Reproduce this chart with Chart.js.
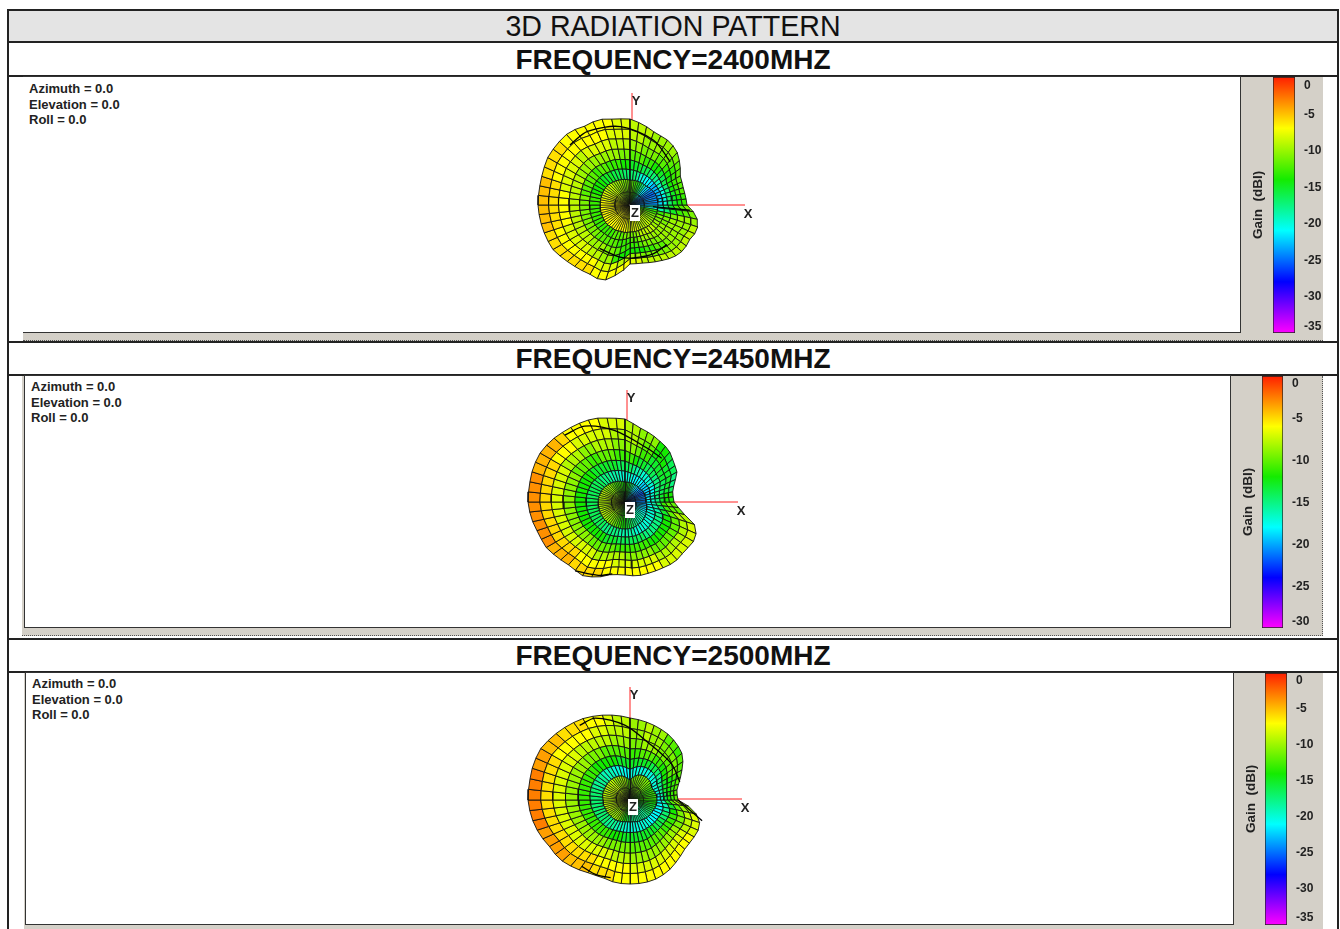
<!DOCTYPE html>
<html>
<head>
<meta charset="utf-8">
<title>3D Radiation Pattern</title>
<script src="https://cdn.jsdelivr.net/npm/chart.js@4"></script>
<style>
html, body { margin: 0; padding: 0; background: #fff; width: 1340px; height: 929px; overflow: hidden; font-family: "Liberation Sans", Arial, sans-serif; }
.abs { position: absolute; box-sizing: border-box; }
.hline { position: absolute; left: 8px; width: 1330px; height: 2px; background: #222; }
.vline { position: absolute; top: 9px; width: 2px; height: 920px; background: #222; }
.title { position: absolute; left: 8px; width: 1330px; text-align: center; color: #111; }
.freq { font-weight: bold; font-size: 28px; line-height: 32px; }
.gray { position: absolute; box-sizing: border-box; background: #d4d0c8; }
.box { position: absolute; box-sizing: border-box; background: #fff; border: 1px solid #333; }
.info { position: absolute; font-size: 13px; font-weight: bold; line-height: 15.5px; color: #222; white-space: pre; }
canvas { position: absolute; }
</style>
</head>
<body>
<div class="abs" style="left:8px;top:10px;width:1330px;height:32px;background:#e4e4e4"></div>
<div class="hline" style="top:9px"></div>
<div class="hline" style="top:41px"></div>
<div class="hline" style="top:75px"></div>
<div class="hline" style="top:341px"></div>
<div class="hline" style="top:374px"></div>
<div class="hline" style="top:638px"></div>
<div class="hline" style="top:671px"></div>
<div class="vline" style="left:7px"></div>
<div class="vline" style="left:1337px"></div>

<div class="title" style="top:10px;font-size:28.6px;line-height:32px">3D RADIATION PATTERN</div>
<div class="title freq" style="top:44px">FREQUENCY=2400MHZ</div>
<div class="title freq" style="top:343px">FREQUENCY=2450MHZ</div>
<div class="title freq" style="top:640px">FREQUENCY=2500MHZ</div>

<div class="gray" style="left:23px;top:77px;width:1300px;height:264px;border-bottom:1px dotted #555"></div>
<div class="box" style="left:23px;top:76px;width:1218px;height:257px;border-left:0"></div>
<div class="gray" style="left:22px;top:376px;width:1301px;height:260px;border-right:1px dotted #555;border-bottom:1px dotted #555"></div>
<div class="box" style="left:24px;top:375px;width:1207px;height:253px"></div>
<div class="gray" style="left:24px;top:673px;width:1299px;height:256px"></div>
<div class="box" style="left:25px;top:672px;width:1209px;height:253px"></div>

<div class="info" style="left:29px;top:81px">Azimuth = 0.0
Elevation = 0.0
Roll = 0.0</div>
<div class="info" style="left:31px;top:379px">Azimuth = 0.0
Elevation = 0.0
Roll = 0.0</div>
<div class="info" style="left:32px;top:676px">Azimuth = 0.0
Elevation = 0.0
Roll = 0.0</div>

<canvas id="pattern1" width="1216" height="255" style="left:24px;top:77px"></canvas>
<canvas id="pattern2" width="1205" height="251" style="left:25px;top:376px"></canvas>
<canvas id="pattern3" width="1207" height="251" style="left:26px;top:673px"></canvas>
<canvas id="bar1" width="82" height="258" style="left:1241px;top:76px"></canvas>
<canvas id="bar2" width="91" height="254" style="left:1231px;top:375px"></canvas>
<canvas id="bar3" width="89" height="254" style="left:1234px;top:672px"></canvas>

<script>
// outer edge and gain were read every 10 degrees round each pattern, counter clockwise from +X
const sectorAngles = [0,10,20,30,40,50,60,70,80,90,100,110,120,130,140,150,160,170,180,190,200,210,220,230,240,250,260,270,280,290,300,310,320,330,340,350];

// outer edge of the surface, px from the middle, one per sector
const outer2400 = [57,56,56,58,65,72,75,76,81,86,87,91,91,95,95,95,93,92,92,91,90,89,85,82,80,81,70,59,59,61,64,68,70,69,72,68];
const outer2450 = [49,48,52,60,63,68,70,73,76,83,85,89,91,93,96,98,98,97,97,95,92,91,87,84,85,80,73,73,75,75,76,78,77,79,77,57];
const outer2500 = [48,47,52,60,69,73,76,78,80,82,86,90,94,97,100,103,103,102,102,100,97,93,92,88,84,82,84,84,84,83,80,76,73,74,75,66];

// dark ring round the dense middle part
const inner2400 = [28,28,28,27,26,25,25,25,25,25,26,27,28,29,30,30,30,30,30,30,30,30,30,29,29,28,28,27,27,27,27,28,28,28,28,28];
const inner2450 = [21,21,21,21,20,20,20,20,20,20,21,22,23,24,25,26,26,27,27,27,27,27,27,27,27,27,27,27,27,27,26,26,25,24,23,22];
const inner2500 = [27,27,26,25,27,28,28,27,24,20,23,26,27,28,28,28,28,28,27,27,26,26,25,25,24,23,22,22,22,23,23,24,25,25,26,27];

// gain in dBi per sector: middle part, then the six rings going outwards
const gain2400 = [
  [-24,-22,-20,-17,-15,-14,-13],[-24,-23,-20,-17,-15,-13,-12],[-25,-23,-20,-17,-14,-13,-12],[-24,-23,-19,-16,-14,-13,-12],
  [-22,-22,-18,-15,-13,-12,-11],[-18,-21,-17,-14,-12,-11,-10],[-15,-20,-16,-13,-11,-10,-10],[-13,-18,-15,-12,-11,-10,-9],
  [-12,-17,-15,-12,-10,-9,-9],[-11,-17,-14,-11,-9,-8,-8],[-11,-16,-13,-10,-9,-8,-7],[-10,-16,-13,-10,-8,-7,-7],
  [-10,-15,-12,-10,-8,-7,-7],[-9,-15,-13,-10,-9,-7,-7],[-9,-14,-12,-10,-8,-7,-6],[-8,-14,-12,-9,-8,-7,-6],
  [-8,-13,-12,-9,-8,-6,-5],[-7,-13,-11,-9,-7,-6,-5],[-7,-13,-11,-9,-7,-6,-5],[-7,-13,-11,-9,-7,-6,-5],
  [-7,-13,-11,-9,-8,-7,-6],[-7,-13,-11,-9,-8,-7,-6],[-7,-13,-12,-10,-8,-7,-6],[-7,-13,-12,-10,-9,-7,-6],
  [-7,-12,-12,-11,-10,-8,-7],[-7,-12,-13,-12,-13,-8,-7],[-8,-11,-13,-13,-14,-9,-7],[-8,-11,-12,-13,-14,-10,-8],
  [-8,-10,-11,-12,-14,-11,-9],[-9,-9,-10,-11,-13,-11,-9],[-9,-9,-10,-11,-12,-11,-9],[-9,-9,-10,-10,-11,-10,-9],
  [-10,-10,-10,-10,-10,-10,-9],[-11,-11,-11,-10,-10,-10,-9],[-13,-13,-12,-11,-10,-10,-10],[-20,-19,-17,-15,-13,-12,-11]
];
const gain2450 = [
  [-21,-18,-17,-15,-13,-12,-12],[-21,-19,-17,-15,-14,-13,-14],[-22,-19,-18,-15,-14,-13,-15],[-21,-19,-17,-15,-13,-13,-14],
  [-20,-19,-17,-14,-13,-12,-13],[-18,-18,-17,-14,-13,-12,-12],[-15,-18,-16,-13,-11,-10,-9],[-13,-17,-15,-12,-10,-9,-9],
  [-12,-17,-14,-11,-9,-8,-8],[-12,-17,-14,-11,-9,-8,-7],[-11,-16,-13,-10,-8,-7,-7],[-11,-16,-13,-10,-8,-7,-6],
  [-10,-15,-13,-11,-9,-7,-6],[-9,-15,-13,-10,-8,-6,-5],[-9,-14,-12,-10,-8,-6,-4],[-8,-14,-12,-9,-7,-5,-4],
  [-8,-14,-12,-9,-7,-5,-3],[-8,-14,-12,-9,-7,-5,-3],[-8,-14,-12,-9,-7,-5,-3],[-8,-14,-12,-9,-7,-5,-3],
  [-8,-14,-12,-9,-7,-5,-3],[-8,-14,-12,-9,-7,-5,-4],[-9,-14,-12,-9,-7,-5,-4],[-9,-15,-12,-10,-7,-6,-5],
  [-10,-15,-13,-10,-8,-6,-5],[-11,-15,-13,-10,-8,-6,-6],[-12,-16,-14,-11,-8,-7,-6],[-13,-16,-14,-11,-9,-7,-6],
  [-14,-16,-14,-11,-9,-7,-6],[-15,-17,-14,-11,-9,-7,-6],[-16,-17,-15,-12,-10,-8,-7],[-16,-17,-15,-12,-10,-8,-7],
  [-17,-17,-15,-12,-10,-8,-7],[-18,-17,-15,-12,-10,-8,-7],[-19,-17,-16,-13,-10,-8,-8],[-20,-18,-16,-14,-11,-10,-10]
];
const gain2500 = [
  [-13,-21,-19,-16,-14,-13,-12],[-13,-20,-18,-15,-14,-13,-12],[-13,-20,-18,-15,-14,-13,-12],[-12,-20,-18,-14,-12,-11,-12],
  [-11,-20,-17,-14,-12,-11,-13],[-11,-20,-16,-13,-11,-11,-12],[-11,-20,-15,-12,-10,-10,-10],[-11,-20,-15,-12,-10,-9,-9],
  [-11,-20,-15,-13,-11,-10,-10],[-12,-21,-15,-12,-10,-9,-9],[-10,-20,-15,-12,-10,-9,-8],[-10,-20,-14,-12,-9,-8,-7],
  [-10,-19,-14,-11,-9,-7,-6],[-9,-19,-14,-11,-9,-7,-6],[-9,-18,-13,-10,-8,-7,-5],[-9,-18,-13,-10,-8,-6,-4],
  [-9,-17,-13,-10,-8,-6,-3],[-9,-17,-13,-10,-8,-6,-3],[-9,-17,-13,-10,-8,-6,-3],[-9,-17,-13,-10,-8,-6,-3],
  [-9,-17,-13,-10,-8,-6,-4],[-10,-17,-13,-10,-8,-6,-4],[-10,-18,-13,-10,-8,-6,-5],[-10,-18,-13,-10,-8,-6,-5],
  [-12,-19,-14,-11,-8,-7,-6],[-14,-19,-14,-11,-9,-7,-6],[-16,-20,-15,-11,-9,-7,-7],[-18,-20,-15,-12,-10,-8,-7],
  [-18,-20,-15,-12,-10,-8,-7],[-18,-20,-15,-12,-10,-8,-7],[-18,-20,-15,-12,-10,-8,-7],[-18,-21,-16,-12,-10,-8,-7],
  [-17,-21,-16,-13,-10,-8,-7],[-16,-21,-17,-13,-11,-9,-8],[-15,-21,-18,-14,-11,-9,-8],[-14,-21,-19,-15,-12,-10,-10]
];

// folds where the surface overlaps itself, as [angle, radius] runs
const folds2400 = [
  [[135,85],[120,85],[97,79],[70,69],[47,59]],
  [[235,53],[259,53],[274,53],[296,54],[313,54]],
  [[356,23],[355,60]]
];
const folds2450 = [
  [[132,90],[118,86],[98,72],[66,58],[50,57]],
  [[234,85],[250,78],[260,73]]
];
const folds2500 = [
  [[124,90],[113,89],[94,75],[72,60],[41,55],[20,53]],
  [[234,82],[246,82],[256,80]],
  [[0,48],[344,75]]
];

const discFractions = [0.04, 0.5, 1];
const ringFractions = [0, 0.17, 0.33, 0.5, 0.67, 0.83, 1];
const spokeStep = 6;
const discSpokeStep = 5;

// colour bars
const ticks2400 = [-1.2,-5.1,-10.1,-15.1,-20.1,-25.1,-30.1,-34.1];
const ticks2450 = [-0.9,-5.1,-10.1,-15.1,-20.1,-25.1,-29.3];
const ticks2500 = [-1,-5,-10,-15,-20,-25,-30,-34];
const labels2400 = ['0','-5','-10','-15','-20','-25','-30','-35'];
const labels2450 = ['0','-5','-10','-15','-20','-25','-30'];
const labels2500 = ['0','-5','-10','-15','-20','-25','-30','-35'];

const colourStops = [[0,[255,30,0]],[0.2,[255,255,0]],[0.4,[20,235,0]],[0.6,[0,255,255]],[0.8,[0,0,255]],[1,[255,0,255]]];

function gainColour(gain, minGain) {
    const t = Math.min(1, Math.max(0, gain / minGain));
    for (let i = 1; i < colourStops.length; i++) {
        if (t <= colourStops[i][0]) {
            const a = colourStops[i - 1], b = colourStops[i];
            const f = (t - a[0]) / (b[0] - a[0]);
            const c = a[1].map((v, k) => Math.round(v + (b[1][k] - v) * f));
            return `rgb(${c[0]},${c[1]},${c[2]})`;
        }
    }
    return 'rgb(255,0,255)';
}

function polar(angle, radius) {
    const a = angle * Math.PI / 180;
    return { x: radius * Math.cos(a), y: radius * Math.sin(a) };
}

// radius of a read list at any spoke angle
function edgeAt(list, angle) {
    const i = Math.floor(angle / 10) % list.length;
    const j = (i + 1) % list.length;
    const f = angle / 10 - Math.floor(angle / 10);
    return list[i] + (list[j] - list[i]) * f;
}

function addBand(sets, gains, column, from, to, minGain, rFn, step, lineWidth) {
    for (let a = 0; a < 360; a += step) {
        const b = a + step;
        const sector = Math.floor((a + step / 2) / 10) % sectorAngles.length;
        const pts = [polar(a, rFn(a, from)), polar(a, rFn(a, to)), polar(b, rFn(b % 360, to)), polar(b, rFn(b % 360, from))];
        sets.push({
            data: pts.concat([pts[0]]), showLine: true, fill: 'shape', backgroundColor: gainColour(gains[sector][column], minGain),
            borderColor: '#111', borderWidth: lineWidth, pointRadius: 0, tension: 0, order: 2
        });
    }
}

const letterPlugin = {
    id: 'letters',
    afterDatasetsDraw(chart, args, opts) {
        const { ctx, scales } = chart;
        ctx.save();
        ctx.font = 'bold 13px "Liberation Sans"';
        ctx.textAlign = 'center';
        ctx.textBaseline = 'middle';
        opts.items.forEach(it => {
            const px = scales.x.getPixelForValue(it.x), py = scales.y.getPixelForValue(it.y);
            if (it.box) {
                ctx.fillStyle = '#fff';
                ctx.fillRect(px - 5, py - 8, 10, 16);
            }
            ctx.fillStyle = '#222';
            ctx.fillText(it.text, px, py);
        });
        ctx.restore();
    }
};

function drawPattern(id, p) {
    const sets = [];
    const rRing = (a, f) => { const r = edgeAt(p.inner, a); return r + f * (edgeAt(p.outer, a) - r); };
    const rDisc = (a, f) => f * edgeAt(p.inner, a);

    for (let k = 0; k < ringFractions.length - 1; k++) {
        addBand(sets, p.gains, k + 1, ringFractions[k], ringFractions[k + 1], p.minGain, rRing, spokeStep, 0.9);
    }
    for (let k = 0; k < discFractions.length - 1; k++) {
        addBand(sets, p.gains, 0, discFractions[k], discFractions[k + 1], p.minGain, rDisc, discSpokeStep, 0.7);
    }
    p.folds.forEach(run => {
        sets.push({
            data: run.map(q => polar(q[0], q[1])), showLine: true, fill: false,
            borderColor: '#000', borderWidth: 1.3, pointRadius: 0, tension: 0.3, order: 1
        });
    });
    sets.push({ data: [{ x: p.axisX, y: p.axisY }, { x: p.axisEndX, y: p.axisY }], showLine: true, borderColor: '#f22', borderWidth: 1, pointRadius: 0, order: 3 });
    sets.push({ data: [{ x: p.axisX, y: p.axisY }, { x: p.axisX, y: p.axisEndY }], showLine: true, borderColor: '#f22', borderWidth: 1, pointRadius: 0, order: 3 });

    new Chart(document.getElementById(id), {
        type: 'scatter',
        data: { datasets: sets },
        plugins: [letterPlugin],
        options: {
            responsive: false, animation: false, events: [],
            layout: { padding: 0 },
            plugins: {
                legend: { display: false }, tooltip: { enabled: false },
                letters: { items: [
                    { text: 'X', x: p.axisEndX + 3, y: p.axisY - 9 },
                    { text: 'Y', x: p.axisX + 4, y: p.axisEndY - 8 },
                    { text: 'Z', x: p.axisX + 3, y: p.axisY - 8, box: true }
                ] }
            },
            scales: {
                x: { type: 'linear', display: false, min: p.xMin, max: p.xMin + p.w },
                y: { type: 'linear', display: false, max: p.yMax, min: p.yMax - p.h }
            }
        }
    });
}

function noMargins(s) {
    s.paddingTop = 0; s.paddingBottom = 0; s.paddingLeft = 0; s.paddingRight = 0;
}

function drawBar(id, minGain, tickValues, tickLabels, leftWidth, rightWidth, titlePad) {
    new Chart(document.getElementById(id), {
        type: 'bar',
        data: {
            labels: ['gain'],
            datasets: [{
                data: [[minGain, 0]], barPercentage: 1, categoryPercentage: 1,
                borderColor: '#222', borderWidth: 1, borderSkipped: false,
                backgroundColor(ctx) {
                    const area = ctx.chart.chartArea;
                    if (!area) return '#fff';
                    const g = ctx.chart.ctx.createLinearGradient(0, area.top, 0, area.bottom);
                    colourStops.forEach(s => g.addColorStop(s[0], `rgb(${s[1][0]},${s[1][1]},${s[1][2]})`));
                    return g;
                }
            }]
        },
        options: {
            responsive: false, animation: false, events: [],
            layout: { padding: { top: 1, bottom: 1 } },
            plugins: { legend: { display: false }, tooltip: { enabled: false } },
            scales: {
                x: { display: false },
                y: {
                    position: 'right', min: minGain, max: 0,
                    grid: { display: false, drawTicks: false }, border: { display: false },
                    afterFit(s) { s.width = rightWidth; noMargins(s); },
                    afterBuildTicks(s) { s.ticks = tickValues.map(v => ({ value: v })); },
                    ticks: {
                        autoSkip: false, padding: 9, color: '#222', font: { size: 12, weight: 'bold', family: '"Liberation Sans"' },
                        callback(v, i) { return tickLabels[i]; }
                    }
                },
                g: {
                    position: 'left', min: minGain, max: 0,
                    grid: { display: false, drawTicks: false }, border: { display: false },
                    ticks: { display: false },
                    afterFit(s) { s.width = leftWidth; noMargins(s); },
                    title: {
                        display: true, text: 'Gain  (dBI)', color: '#222', padding: { top: titlePad, bottom: 0 },
                        font: { size: 13.5, weight: 'bold', family: '"Liberation Sans"' }
                    }
                }
            }
        }
    });
}

drawPattern('pattern1', { outer: outer2400, inner: inner2400, gains: gain2400, folds: folds2400, minGain: -35,
    xMin: 24 - 630, yMax: 205 - 77, w: 1216, h: 255, axisX: 2, axisY: 0, axisEndX: 115, axisEndY: 112 });
drawPattern('pattern2', { outer: outer2450, inner: inner2450, gains: gain2450, folds: folds2450, minGain: -30,
    xMin: 25 - 625, yMax: 502 - 376, w: 1205, h: 251, axisX: 2, axisY: 0, axisEndX: 113, axisEndY: 112 });
drawPattern('pattern3', { outer: outer2500, inner: inner2500, gains: gain2500, folds: folds2500, minGain: -35,
    xMin: 26 - 630, yMax: 800 - 673, w: 1207, h: 251, axisX: 0, axisY: 1, axisEndX: 112, axisEndY: 113 });

drawBar('bar1', -35, ticks2400, labels2400, 32, 28, 9);
drawBar('bar2', -30, ticks2450, labels2450, 31, 39, 9);
drawBar('bar3', -35, ticks2500, labels2500, 31, 36, 9);
</script>
</body>
</html>
